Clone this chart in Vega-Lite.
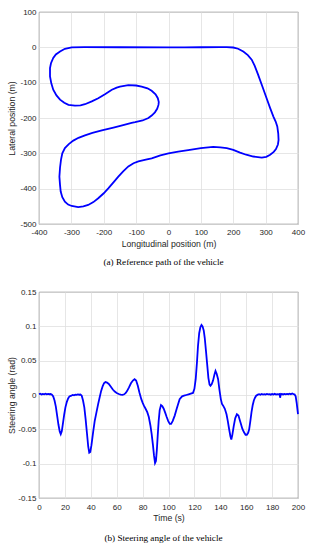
{
  "$schema": "https://vega.github.io/schema/vega-lite/v6.json",
  "padding": {"left": 7, "top": 7, "right": 5, "bottom": 5},
  "background": "white",
  "spacing": 19,
  "config": {
    "font": "Liberation Sans",
    "view": {"stroke": "#404040", "strokeWidth": 0.8},
    "axis": {
      "labelFont": "Liberation Sans", "labelFontSize": 8, "labelColor": "#262626",
      "titleFont": "Liberation Sans", "titleFontSize": 8.7, "titleFontWeight": "normal", "titleColor": "#262626",
      "gridColor": "#e0e0e0", "gridWidth": 0.8, "domain": false, "ticks": false,
      "labelPadding": 4, "labelFlush": false, "labelOverlap": false
    },
    "title": {"font": "Liberation Serif", "fontSize": 9.2, "fontWeight": "normal", "color": "#000000", "orient": "bottom", "anchor": "middle", "dx": -5}
  },
  "datasets": {
    "path": [
      {"x":0,"y":0},{"x":-150,"y":0.3},{"x":-260,"y":0.5},{"x":-299,"y":0},{"x":-320,"y":-4},{"x":-335,"y":-11.6},{"x":-348,"y":-20},{"x":-356,"y":-30},{"x":-363,"y":-45},{"x":-366,"y":-59},{"x":-366,"y":-82},{"x":-362,"y":-102},{"x":-356,"y":-120},{"x":-346,"y":-136},{"x":-335,"y":-148},{"x":-322,"y":-157},{"x":-309,"y":-163},{"x":-289,"y":-165},{"x":-272,"y":-164},{"x":-258,"y":-161},{"x":-237,"y":-153},{"x":-217,"y":-144},{"x":-195,"y":-132},{"x":-175,"y":-120},{"x":-160,"y":-114},{"x":-150,"y":-111},{"x":-124,"y":-107},{"x":-100,"y":-108},{"x":-83,"y":-111},{"x":-65,"y":-116},{"x":-52,"y":-123},{"x":-40,"y":-133},{"x":-33,"y":-144},{"x":-30,"y":-155},{"x":-31,"y":-163},{"x":-35,"y":-174},{"x":-42,"y":-184},{"x":-52,"y":-193},{"x":-62,"y":-200},{"x":-80,"y":-207},{"x":-103,"y":-212},{"x":-114,"y":-214},{"x":-140,"y":-220},{"x":-170,"y":-227},{"x":-206,"y":-235},{"x":-235,"y":-242},{"x":-258,"y":-249},{"x":-278,"y":-256},{"x":-294,"y":-264},{"x":-308,"y":-274},{"x":-320,"y":-285},{"x":-328,"y":-300},{"x":-332,"y":-318},{"x":-335,"y":-340},{"x":-337,"y":-366},{"x":-335,"y":-390},{"x":-333,"y":-408},{"x":-328,"y":-424},{"x":-320,"y":-437},{"x":-310,"y":-445},{"x":-299,"y":-449},{"x":-279,"y":-452},{"x":-263,"y":-450},{"x":-248,"y":-446},{"x":-232,"y":-438},{"x":-217,"y":-427},{"x":-200,"y":-413},{"x":-186,"y":-399},{"x":-170,"y":-382},{"x":-155,"y":-366},{"x":-140,"y":-351},{"x":-124,"y":-337},{"x":-108,"y":-328},{"x":-93,"y":-323},{"x":-70,"y":-318},{"x":-52,"y":-314},{"x":-25,"y":-306},{"x":0,"y":-300},{"x":30,"y":-295},{"x":66,"y":-290},{"x":100,"y":-285},{"x":138,"y":-282},{"x":160,"y":-283},{"x":180,"y":-285},{"x":200,"y":-290},{"x":221,"y":-298},{"x":240,"y":-304},{"x":262,"y":-309},{"x":288,"y":-312},{"x":302,"y":-310},{"x":314,"y":-304},{"x":325,"y":-296},{"x":332,"y":-288},{"x":338,"y":-275},{"x":340,"y":-262},{"x":339,"y":-244},{"x":336,"y":-224},{"x":331,"y":-210},{"x":324,"y":-196},{"x":314,"y":-172},{"x":303,"y":-144},{"x":290,"y":-111},{"x":277,"y":-78},{"x":266,"y":-52},{"x":257,"y":-35},{"x":245,"y":-22},{"x":231,"y":-12},{"x":215,"y":-4},{"x":200,"y":-0.5},{"x":180,"y":0.5},{"x":159,"y":0.5},{"x":100,"y":0.3},{"x":50,"y":0},{"x":0,"y":0}
    ],
    "steer": [
      {"t":0,"v":0.0012},{"t":1,"v":0.0018},{"t":2,"v":0.0008},{"t":3,"v":0.0016},{"t":4,"v":0.001},{"t":5,"v":0.0019},{"t":6,"v":0.0009},{"t":7,"v":0.0015},{"t":8,"v":0.0011},{"t":9,"v":0.0014},{"t":10,"v":0.0005},{"t":11,"v":-0.002},{"t":12,"v":-0.008},{"t":13,"v":-0.017},{"t":14,"v":-0.03},{"t":15,"v":-0.043},{"t":16,"v":-0.053},{"t":16.8,"v":-0.057},{"t":17.6,"v":-0.053},{"t":18.6,"v":-0.04},{"t":19.5,"v":-0.028},{"t":20.4,"v":-0.018},{"t":21.5,"v":-0.01},{"t":22.5,"v":-0.005},{"t":23.5,"v":-0.002},{"t":25,"v":-0.001},{"t":26,"v":0.0002},{"t":27,"v":-0.0004},{"t":28,"v":0.0006},{"t":29,"v":0.0001},{"t":30,"v":0.0008},{"t":31,"v":0.0004},{"t":32,"v":0.0007},{"t":33,"v":-0.001},{"t":34,"v":-0.008},{"t":35,"v":-0.018},{"t":36,"v":-0.035},{"t":37,"v":-0.055},{"t":38,"v":-0.075},{"t":38.8,"v":-0.084},{"t":39.6,"v":-0.083},{"t":40.5,"v":-0.073},{"t":41.8,"v":-0.054},{"t":43,"v":-0.038},{"t":44.4,"v":-0.025},{"t":45.7,"v":-0.013},{"t":46.9,"v":-0.003},{"t":48,"v":0.006},{"t":49.2,"v":0.013},{"t":50.3,"v":0.0175},{"t":51.3,"v":0.019},{"t":52.5,"v":0.018},{"t":53.9,"v":0.016},{"t":55.5,"v":0.012},{"t":57,"v":0.008},{"t":58.5,"v":0.005},{"t":60,"v":0.003},{"t":61.6,"v":0.0015},{"t":63,"v":0.0005},{"t":64.5,"v":0.0002},{"t":65.8,"v":0.001},{"t":67,"v":0.003},{"t":68.1,"v":0.006},{"t":69.5,"v":0.011},{"t":71,"v":0.017},{"t":72.5,"v":0.021},{"t":73.8,"v":0.023},{"t":75,"v":0.021},{"t":76.3,"v":0.0135},{"t":77.5,"v":0.004},{"t":79,"v":-0.006},{"t":80,"v":-0.011},{"t":81,"v":-0.0155},{"t":82.3,"v":-0.02},{"t":83.6,"v":-0.025},{"t":84.8,"v":-0.032},{"t":86,"v":-0.044},{"t":87,"v":-0.057},{"t":88,"v":-0.073},{"t":88.8,"v":-0.088},{"t":89.6,"v":-0.099},{"t":90.3,"v":-0.096},{"t":91,"v":-0.08},{"t":91.7,"v":-0.058},{"t":92.4,"v":-0.038},{"t":93.2,"v":-0.022},{"t":94.2,"v":-0.0145},{"t":95.2,"v":-0.016},{"t":96.3,"v":-0.02},{"t":97.5,"v":-0.026},{"t":98.6,"v":-0.032},{"t":99.8,"v":-0.038},{"t":101,"v":-0.042},{"t":102,"v":-0.042},{"t":103.2,"v":-0.038},{"t":104.8,"v":-0.03},{"t":106.5,"v":-0.019},{"t":108.6,"v":-0.006},{"t":110.5,"v":-0.002},{"t":112,"v":-0.001},{"t":113.8,"v":0},{"t":115.5,"v":0.001},{"t":117.2,"v":0.002},{"t":118.9,"v":0.003},{"t":120,"v":0.009},{"t":121,"v":0.023},{"t":122,"v":0.048},{"t":122.8,"v":0.072},{"t":123.7,"v":0.09},{"t":124.6,"v":0.0985},{"t":125.5,"v":0.102},{"t":126.3,"v":0.1},{"t":127.2,"v":0.094},{"t":128,"v":0.083},{"t":128.9,"v":0.065},{"t":129.8,"v":0.046},{"t":130.8,"v":0.025},{"t":131.7,"v":0.015},{"t":132.4,"v":0.0135},{"t":133.4,"v":0.016},{"t":134.4,"v":0.021},{"t":135.5,"v":0.03},{"t":136.3,"v":0.035},{"t":137.2,"v":0.031},{"t":138.3,"v":0.023},{"t":139.3,"v":0.008},{"t":140.4,"v":-0.006},{"t":141.3,"v":-0.013},{"t":142.2,"v":-0.0155},{"t":143.5,"v":-0.02},{"t":144.8,"v":-0.028},{"t":145.8,"v":-0.038},{"t":146.8,"v":-0.0495},{"t":147.8,"v":-0.06},{"t":148.5,"v":-0.065},{"t":149.3,"v":-0.058},{"t":150.4,"v":-0.045},{"t":151.5,"v":-0.034},{"t":152.8,"v":-0.028},{"t":154,"v":-0.03},{"t":155.6,"v":-0.04},{"t":157,"v":-0.049},{"t":158.2,"v":-0.054},{"t":159.5,"v":-0.058},{"t":160.5,"v":-0.058},{"t":161.5,"v":-0.055},{"t":162.3,"v":-0.05},{"t":163.2,"v":-0.038},{"t":164.1,"v":-0.025},{"t":165,"v":-0.015},{"t":165.9,"v":-0.008},{"t":166.8,"v":-0.004},{"t":167.7,"v":-0.001},{"t":169,"v":0.0005},{"t":170,"v":0.0012},{"t":171,"v":0.0004},{"t":172,"v":0.0015},{"t":173,"v":0.0007},{"t":174,"v":0.0013},{"t":175,"v":0.0006},{"t":176,"v":0.0016},{"t":177,"v":0.0009},{"t":178,"v":0.0012},{"t":179,"v":0.0005},{"t":180,"v":0.0014},{"t":181,"v":0.0008},{"t":182,"v":0.0017},{"t":183,"v":0.0006},{"t":184,"v":0.0013},{"t":185,"v":0.001},{"t":185.8,"v":0.0015},{"t":186.2,"v":-0.004},{"t":186.6,"v":0.001},{"t":187.5,"v":0.0014},{"t":188.5,"v":0.0008},{"t":189.5,"v":0.0016},{"t":190.5,"v":0.0009},{"t":191.5,"v":0.0015},{"t":192.5,"v":0.0011},{"t":193.5,"v":0.0019},{"t":194.5,"v":0.0012},{"t":195.5,"v":0.0022},{"t":196.5,"v":0.0014},{"t":197.3,"v":0.001},{"t":198.2,"v":-0.002},{"t":199,"v":-0.012},{"t":200,"v":-0.028}
    ]
  },
  "vconcat": [
    {
      "width": 259,
      "height": 212,
      "title": {"text": "(a) Reference path of the vehicle", "offset": 10},
      "data": {"name": "path"},
      "mark": {"type": "line", "color": "#0000ff", "strokeWidth": 1.8},
      "encoding": {
        "x": {"field": "x", "type": "quantitative",
          "scale": {"domain": [-400, 400], "nice": false, "zero": false},
          "axis": {"values": [-400,-300,-200,-100,0,100,200,300,400], "labelExpr": "toString(datum.value)", "title": "Longitudinal position (m)", "titlePadding": 3}},
        "y": {"field": "y", "type": "quantitative",
          "scale": {"domain": [-500, 100], "nice": false, "zero": false},
          "axis": {"values": [-500,-400,-300,-200,-100,0,100], "labelExpr": "toString(datum.value)", "labelPadding": 3, "title": "Lateral position (m)", "titleX": -27.5, "titleBaseline": "middle", "titleAngle": 270}},
        "order": {"value": null}
      }
    },
    {
      "width": 259,
      "height": 206,
      "title": {"text": "(b) Steering angle of the vehicle", "offset": 12},
      "data": {"name": "steer"},
      "mark": {"type": "line", "color": "#0000ff", "strokeWidth": 1.8},
      "encoding": {
        "x": {"field": "t", "type": "quantitative",
          "scale": {"domain": [0, 200], "nice": false},
          "axis": {"values": [0,20,40,60,80,100,120,140,160,180,200], "labelExpr": "toString(datum.value)", "title": "Time (s)", "titlePadding": 2, "labelPadding": 5}},
        "y": {"field": "v", "type": "quantitative",
          "scale": {"domain": [-0.15, 0.15], "nice": false, "zero": false},
          "axis": {"values": [-0.15,-0.1,-0.05,0,0.05,0.1,0.15], "labelExpr": "toString(datum.value)", "labelPadding": 3, "title": "Steering angle (rad)", "titleX": -27.5, "titleBaseline": "middle", "titleAngle": 270}}
      }
    }
  ]
}
